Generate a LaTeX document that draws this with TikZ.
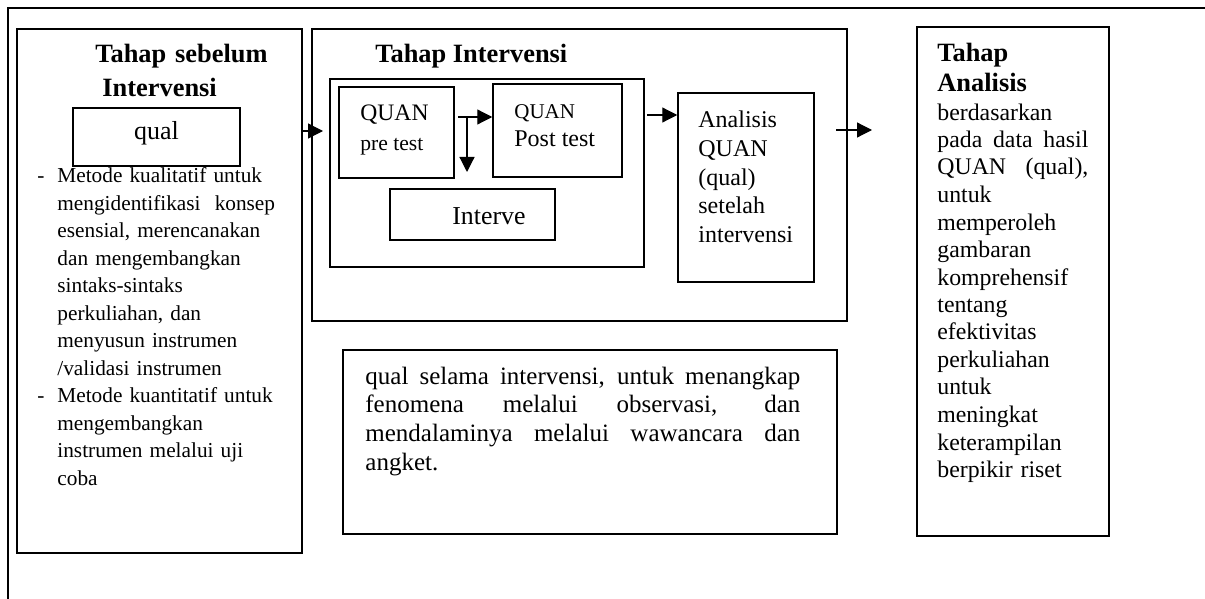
\documentclass[tikz,border=0pt]{standalone}
\usepackage{fontspec}
\setmainfont{Liberation Serif}
\usetikzlibrary{arrows.meta,fit}
\newcommand{\setfs}[2]{\fontsize{#1}{#2}\selectfont}
\newcommand{\fullline}[2]{{\spaceskip=0pt\xspaceskip=0pt\makebox[#1][s]{#2}}}
\newcommand{\dashitem}{\leavevmode\llap{-\hspace{6.5pt}}}
\tikzset{
  box/.style={draw, line width=0.75pt, inner sep=0pt},
  txt/.style={anchor=base west, inner sep=0pt, align=left},
  arr/.style={line width=0.6pt, -{Triangle[length=7.5pt,width=7.5pt]}},
}

\begin{document}
\begin{tikzpicture}[x=0.5pt,y=-0.5pt]
\useasboundingbox (0,0) rectangle (1205,599);
% frame
\draw[line width=0.7pt] (1205,8) -- (8,8) -- (8,599);

% stage before
\node[box, fit={(17,29) (302,553)}] (before) {};
\node[txt, text width=100pt, font=\bfseries\setfs{13.2}{17}] (beforetitle) at (95,63) {Tahap sebelum\\\hspace*{3.5pt}Intervensi};
\node[box, fit={(73,108) (240,166)}] (qualbox) {};
\node[anchor=base, inner sep=0pt, font=\setfs{13}{15}] (qual) at (156.5,140) {qual};
\node[txt, text width=122pt, font=\setfs{10.65}{13.73}] (methods) at (57,183) {\dashitem Metode kualitatif untuk\\
mengidentifikasi~ konsep\\
esensial, merencanakan\\
dan mengembangkan\\
sintaks-sintaks\\
perkuliahan, dan\\
menyusun instrumen\\
/validasi instrumen\\
\dashitem Metode kuantitatif untuk\\
mengembangkan\\
instrumen melalui uji\\
coba};

% stage intervention
\node[box, fit={(312,29) (847,321)}] (interv) {};
\node[txt, font=\bfseries\setfs{13.2}{17}] (intervtitle) at (375,63) {Tahap Intervensi};
\node[box, fit={(330,79) (644,267)}] (inner) {};
\node[box, fit={(339,87) (454,178)}] (pre) {};
\node[txt, font=\setfs{11.8}{14}] (prequan) at (360,120) {QUAN};
\node[txt, font=\setfs{10.8}{13}] (pretest) at (360,150) {pre test};
\node[box, fit={(493,84) (622,177)}] (post) {};
\node[txt, font=\setfs{10.5}{13}] (postquan) at (514,119) {QUAN};
\node[txt, font=\setfs{12}{14}] (posttest) at (514,147) {Post test};
\node[box, fit={(390,189) (555,240)}] (treat) {};
\node[txt, font=\setfs{12.9}{15}] (treattext) at (452,224) {Interve};
\node[box, fit={(678,93) (814,282)}] (ana) {};
\node[txt, text width=60pt, font=\setfs{12}{14.5}] (anatext) at (698,127) {Analisis\\QUAN\\(qual)\\setelah\\intervensi};

% qual during intervention
\node[box, fit={(343,350) (837,534)}] (during) {};
\node[txt, text width=217.5pt, font=\setfs{12.5}{14.35}] (duringtext) at (365,384) {\fullline{217.5pt}{qual selama intervensi, untuk menangkap}\\
\fullline{217.5pt}{fenomena melalui observasi, dan}\\
\fullline{217.5pt}{mendalaminya melalui wawancara dan}\\
angket.};

% stage analysis
\node[box, fit={(917,27) (1109,536)}] (after) {};
\node[txt, text width=80pt, font=\bfseries\setfs{13.2}{15}] (aftertitle) at (937,62) {Tahap\\Analisis};
\node[txt, text width=75.5pt, font=\setfs{11.9}{13.75}] (aftertext) at (937,120) {berdasarkan\\
\fullline{75.5pt}{pada data hasil}\\
\fullline{75.5pt}{QUAN (qual),}\\
untuk\\
memperoleh\\
gambaran\\
komprehensif\\
tentang\\
efektivitas\\
perkuliahan\\
untuk\\
meningkat\\
keterampilan\\
berpikir riset};

% arrows
\coordinate (a1) at (323,131);
\draw[arr] (before.east |- a1) -- (a1);
\coordinate (a2) at (458,117);
\draw[arr] (a2) -- (a2 -| post.west);
\coordinate (a3) at (467,117);
\coordinate (b3) at (467,172);
\draw[arr] (a3) -- (b3);
\coordinate (a4) at (647,115);
\draw[arr] (a4) -- (a4 -| ana.west);
\coordinate (a5) at (836,130);
\coordinate (b5) at (872,130);
\draw[arr] (a5) -- (b5);

\end{tikzpicture}
\end{document}
